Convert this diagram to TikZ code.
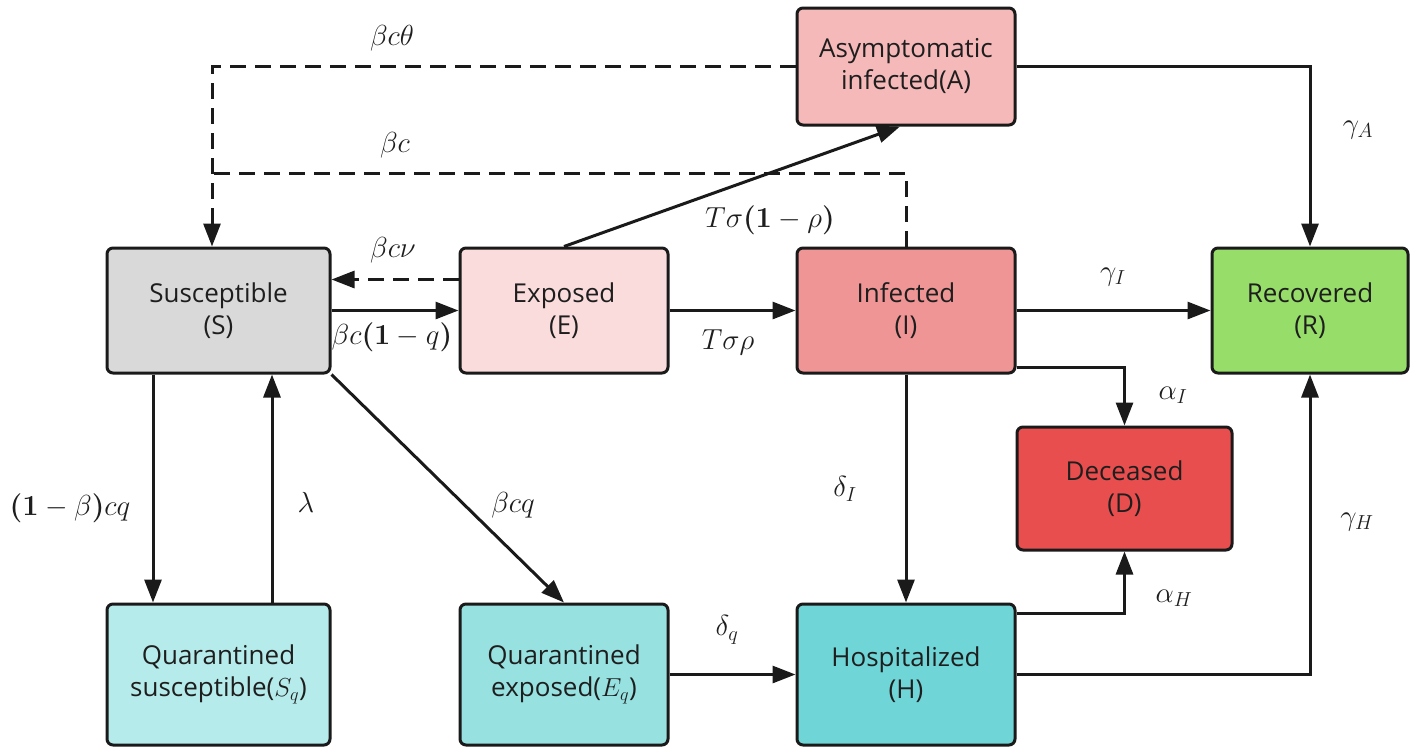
\documentclass[tikz,border=0pt]{standalone}
\usepackage{fix-cm}
\usepackage[no-math]{fontspec}
\usepackage{amsmath,bm}
\newfontfamily\boxfont{Open Sans}
\usetikzlibrary{arrows.meta,calc}
\definecolor{linec}{HTML}{1A1A1A}
\definecolor{textc}{HTML}{1E1E1E}
\definecolor{cS}{HTML}{D9D9D9}
\definecolor{cE}{HTML}{FBDCDC}
\definecolor{cA}{HTML}{F6B9B9}
\definecolor{cI}{HTML}{F09595}
\definecolor{cR}{HTML}{97DD69}
\definecolor{cD}{HTML}{E94E4E}
\definecolor{cSq}{HTML}{B6EBEB}
\definecolor{cEq}{HTML}{97E1E1}
\definecolor{cH}{HTML}{6FD5D7}
\begin{document}
\begin{tikzpicture}[x=1pt,y=-1pt,
  box/.style={draw=linec, line width=3pt, rounded corners=6pt, inner sep=0pt,
    align=center, text=textc, font=\boxfont\fontsize{26}{32}\selectfont},
  arr/.style={draw=linec, line width=3pt, -{Triangle[length=23pt,width=17pt]}},
  darr/.style={arr, dash pattern=on 16pt off 9pt},
  dline/.style={draw=linec, line width=3pt, dash pattern=on 16pt off 9pt},
  lab/.style={font=\fontsize{29}{34}\selectfont, inner sep=0pt, text=textc}]
\useasboundingbox (0,0) rectangle (1417,753);
% boxes
\node[box, fill=cS, minimum width=223pt, minimum height=125pt] (S) at (218.5,310.5) {Susceptible\\(S)};
\node[box, fill=cE, minimum width=208pt, minimum height=125pt] (E) at (564,310.5) {Exposed\\(E)};
\node[box, fill=cI, minimum width=218pt, minimum height=125pt] (I) at (906,310.5) {Infected\\(I)};
\node[box, fill=cR, minimum width=196pt, minimum height=125pt] (R) at (1310,310.5) {Recovered\\(R)};
\node[box, fill=cA, minimum width=218pt, minimum height=117pt] (A) at (906,66.5) {Asymptomatic\\infected(A)};
\node[box, fill=cD, minimum width=215pt, minimum height=123pt] (D) at (1124.5,488.5) {Deceased\\(D)};
\node[box, fill=cSq, minimum width=223pt, minimum height=141pt] (Sq) at (218.5,674.5) {Quarantined\\susceptible($S_q$)};
\node[box, fill=cEq, minimum width=208pt, minimum height=141pt] (Eq) at (564,674.5) {Quarantined\\exposed($E_q$)};
\node[box, fill=cH, minimum width=218pt, minimum height=141pt] (H) at (906,674.5) {Hospitalized\\(H)};
% helper coordinates
\coordinate (c1) at (212,66.5);
\coordinate (c2) at (212,173);
% dashed connectors
\draw[darr] (A.west) -- (c1) -- (c1 |- S.north);
\draw[dline] (I.north) -- (I.north |- c2) -- (c2);
\draw[darr] ($(E.west)+(0,-31)$) -- ($(S.east)+(0,-31)$);
% solid connectors
\draw[arr] (S.east) -- (E.west);
\draw[arr] (E.north) -- ($(A.south)+(-6,0)$);
\draw[arr] (E.east) -- (I.west);
\draw[arr] (I.east) -- (R.west);
\draw[arr] (A.east) -| (R.north);
\draw[arr] ($(I.east)+(0,56.5)$) -| (D.north);
\draw[arr] (I.south) -- (H.north);
\draw[arr] ($(H.east)+(0,-61)$) -| (D.south);
\draw[arr] (H.east) -| (R.south);
\draw[arr] (Eq.east) -- (H.west);
\draw[arr] ($(S.south)+(-65.5,0)$) -- ($(Sq.north)+(-65.5,0)$);
\draw[arr] ($(Sq.north)+(53.5,0)$) -- ($(S.south)+(53.5,0)$);
\draw[arr] (S.south east) -- (Eq.north);
% labels
\node[lab] (l1) at (392,38) {$\beta c\theta$};
\node[lab] (l2) at (395,145) {$\beta c$};
\node[lab] (l3) at (393,250) {$\beta c\nu$};
\node[lab] (l4) at (392,337) {$\beta c\bm{(1}-q\bm{)}$};
\node[lab] (l5) at (770,220) {$T\sigma\bm{(1}-\rho\bm{)}$};
\node[lab] (l6) at (728,342) {$T\sigma\rho$};
\node[lab] (l7) at (1113,277) {$\gamma_I$};
\node[lab] (l8) at (1358,130) {$\gamma_A$};
\node[lab] (l9) at (1173,395) {$\alpha_I$};
\node[lab] (l10) at (845,489) {$\delta_I$};
\node[lab] (l11) at (1174,598) {$\alpha_H$};
\node[lab] (l12) at (1357,522) {$\gamma_H$};
\node[lab] (l13) at (727,630) {$\delta_q$};
\node[lab] (l14) at (70,508) {$\bm{(1}-\beta\bm{)}cq$};
\node[lab] (l15) at (306,502) {$\lambda$};
\node[lab] (l16) at (513,505) {$\beta cq$};
\end{tikzpicture}
\end{document}
